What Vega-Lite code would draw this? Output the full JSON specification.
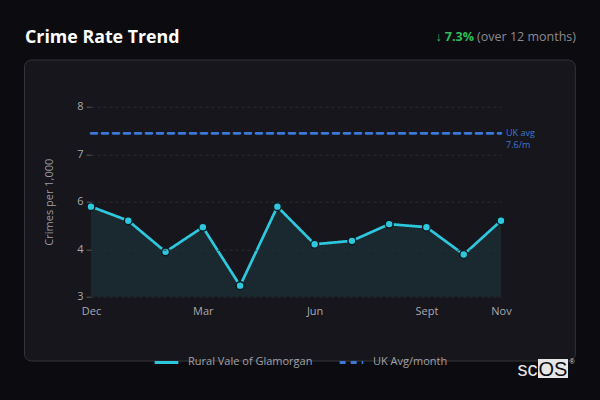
{
  "$schema": "https://vega.github.io/schema/vega-lite/v6.json",
  "autosize": {"type": "none"},
  "width": 410,
  "height": 190,
  "padding": {"left": 91, "top": 106.7, "right": 99, "bottom": 103.3},
  "background": "#0c0c10",
  "config": {
    "view": {"stroke": null},
    "font": "Open Sans",
    "axis": {"labelFont": "Open Sans", "titleFont": "Open Sans"},
    "legend": {"labelFont": "Open Sans"}
  },
  "title": {
    "text": "Crime Rate Trend",
    "anchor": "start",
    "frame": "group",
    "dx": -66,
    "offset": -16,
    "fontSize": 17.8,
    "fontWeight": "bold",
    "color": "#ffffff",
    "font": "Open Sans"
  },
  "datasets": {
    "trend": [
      {"month": "Dec", "value": 5.37, "series": "Rural Vale of Glamorgan"},
      {"month": "Jan", "value": 5.0, "series": "Rural Vale of Glamorgan"},
      {"month": "Feb", "value": 4.18, "series": "Rural Vale of Glamorgan"},
      {"month": "Mar", "value": 4.83, "series": "Rural Vale of Glamorgan"},
      {"month": "Apr", "value": 3.29, "series": "Rural Vale of Glamorgan"},
      {"month": "May", "value": 5.37, "series": "Rural Vale of Glamorgan"},
      {"month": "Jun", "value": 4.38, "series": "Rural Vale of Glamorgan"},
      {"month": "Jul", "value": 4.47, "series": "Rural Vale of Glamorgan"},
      {"month": "Aug", "value": 4.91, "series": "Rural Vale of Glamorgan"},
      {"month": "Sept", "value": 4.83, "series": "Rural Vale of Glamorgan"},
      {"month": "Oct", "value": 4.11, "series": "Rural Vale of Glamorgan"},
      {"month": "Nov", "value": 5.0, "series": "Rural Vale of Glamorgan"},
      {"month": "Dec", "value": 7.3, "series": "UK Avg/month"},
      {"month": "Nov", "value": 7.3, "series": "UK Avg/month"}
    ]
  },
  "layer": [
    {
      "data": {"values": [{}]},
      "mark": {"type": "rect", "fill": "#16161c", "stroke": "#34343b", "strokeWidth": 1, "cornerRadius": 7},
      "encoding": {
        "x": {"value": -66.5},
        "x2": {"value": 484.3},
        "y": {"value": -46.7},
        "y2": {"value": 254.3}
      }
    },
    {
      "data": {"name": "trend"},
      "transform": [{"filter": "datum.series == 'Rural Vale of Glamorgan'"}],
      "mark": {"type": "area", "color": "#19292f", "opacity": 1},
      "encoding": {
        "x": {
          "field": "month", "type": "ordinal", "sort": null,
          "scale": {"type": "point", "padding": 0, "domain": ["Dec","Jan","Feb","Mar","Apr","May","Jun","Jul","Aug","Sept","Oct","Nov"]},
          "axis": {
            "values": ["Dec","Mar","Jun","Sept","Nov"], "zindex": 1,
            "title": null, "labelAngle": 0, "domain": false, "ticks": false,
            "labelColor": "#a8a8ae", "labelFontSize": 11, "labelPadding": 9, "grid": false
          }
        },
        "y": {
          "field": "value", "type": "quantitative",
          "scale": {"domain": [3, 8], "zero": false, "nice": false},
          "axis": {
            "zindex": 1,
            "title": "Crimes per 1,000", "titleColor": "#9a9aa0", "titleFontSize": 11, "titleFontWeight": "normal", "titlePadding": 22,
            "values": [3, 4.25, 5.5, 6.75, 8], "format": ".0f",
            "labelColor": "#a8a8ae", "labelFontSize": 11, "labelPadding": 3,
            "tickSize": 5, "tickColor": "#55555c", "domain": false,
            "grid": true, "gridColor": "#2c2c33", "gridDash": [3, 3], "gridWidth": 1
          }
        },
        "y2": {"datum": 3}
      }
    },
    {
      "data": {"name": "trend"},
      "mark": {"type": "line", "strokeCap": "round"},
      "encoding": {
        "x": {"field": "month", "type": "ordinal", "sort": null},
        "y": {"field": "value", "type": "quantitative"},
        "color": {
          "field": "series", "type": "nominal",
          "scale": {"domain": ["Rural Vale of Glamorgan", "UK Avg/month"], "range": ["#2ec8de", "#3b78d8"]},
          "legend": {
            "title": null, "orient": "none", "direction": "horizontal",
            "legendX": 62, "legendY": 242,
            "symbolType": "stroke", "symbolSize": 560, "symbolStrokeWidth": 3,
            "labelColor": "#a0a0a6", "labelFontSize": 11, "labelOffset": 8, "columnPadding": 20
          }
        },
        "strokeDash": {
          "field": "series", "type": "nominal",
          "scale": {"domain": ["Rural Vale of Glamorgan", "UK Avg/month"], "range": [[1, 0], [6, 5]]},
          "legend": null
        },
        "strokeWidth": {"value": 2.7}
      }
    },
    {
      "data": {"name": "trend"},
      "transform": [{"filter": "datum.series == 'Rural Vale of Glamorgan'"}],
      "mark": {"type": "point", "filled": true, "fill": "#2ec8de", "stroke": "#0e1a1f", "strokeWidth": 1.5, "size": 62, "opacity": 1},
      "encoding": {
        "x": {"field": "month", "type": "ordinal", "sort": null},
        "y": {"field": "value", "type": "quantitative"}
      }
    },
    {
      "data": {"values": [{"label": ["UK avg", "7.6/m"]}]},
      "mark": {"type": "text", "align": "left", "baseline": "middle", "dx": 5, "fontSize": 9, "color": "#3b78d8", "lineHeight": 11.5},
      "encoding": {
        "x": {"datum": "Nov"},
        "y": {"datum": 7.3},
        "text": {"field": "label"}
      }
    },
    {
      "data": {"values": [{"t": "(over 12 months)"}]},
      "mark": {"type": "text", "align": "right", "baseline": "alphabetic", "fontSize": 12.5, "color": "#8a8a90"},
      "encoding": {"x": {"value": 485}, "y": {"value": -66}, "text": {"field": "t"}}
    },
    {
      "data": {"values": [{"t": "↓ 7.3%"}]},
      "mark": {"type": "text", "align": "right", "baseline": "alphabetic", "fontSize": 12.5, "fontWeight": "bold", "color": "#2ebd5a"},
      "encoding": {"x": {"value": 383}, "y": {"value": -66}, "text": {"field": "t"}}
    },
    {
      "data": {"values": [{}]},
      "mark": {"type": "rect", "fill": "#e6e6e6"},
      "encoding": {"x": {"value": 447}, "x2": {"value": 477}, "y": {"value": 252.3}, "y2": {"value": 271.3}}
    },
    {
      "data": {"values": [{"t": "sc"}]},
      "mark": {"type": "text", "align": "right", "baseline": "alphabetic", "fontSize": 20, "font": "Liberation Sans", "color": "#e6e6e6"},
      "encoding": {"x": {"value": 446.5}, "y": {"value": 269}, "text": {"field": "t"}}
    },
    {
      "data": {"values": [{"t": "OS"}]},
      "mark": {"type": "text", "align": "center", "baseline": "alphabetic", "fontSize": 20, "font": "Liberation Sans", "color": "#0c0c10"},
      "encoding": {"x": {"value": 462}, "y": {"value": 269}, "text": {"field": "t"}}
    },
    {
      "data": {"values": [{"t": "®"}]},
      "mark": {"type": "text", "align": "center", "baseline": "middle", "fontSize": 7, "font": "Liberation Sans", "color": "#cccccc"},
      "encoding": {"x": {"value": 481}, "y": {"value": 255}, "text": {"field": "t"}}
    }
  ]
}
